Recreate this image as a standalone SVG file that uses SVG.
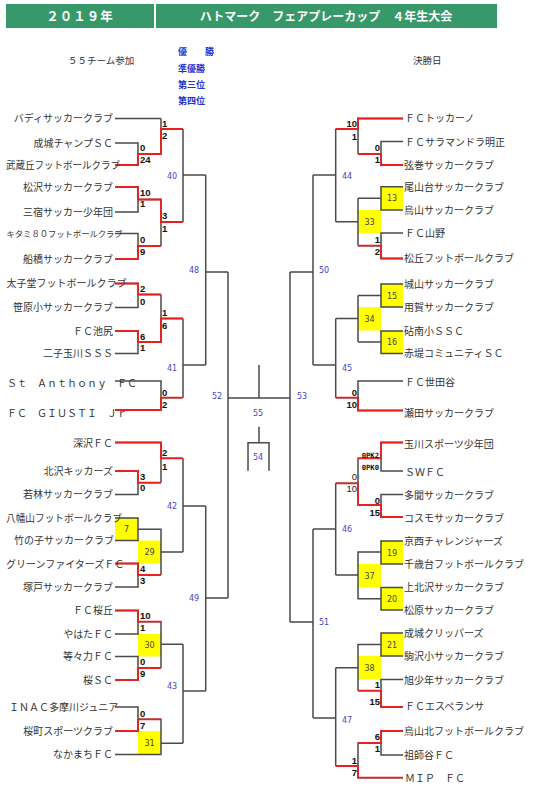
<svg xmlns="http://www.w3.org/2000/svg" width="540" height="792" viewBox="0 0 540 792">
<style>
.hd{fill:#37996a}
.ht{font-family:"Noto Sans CJK JP","Noto Sans",sans-serif;font-weight:bold;fill:#fff;text-anchor:middle}
.nm{font-family:"Noto Sans CJK JP","Noto Sans",sans-serif;font-size:10px;fill:#333}
.nms{font-family:"Noto Sans CJK JP","Noto Sans",sans-serif;font-size:8.3px;fill:#333}
.l{text-anchor:end}
.bl{font-family:"Noto Sans CJK JP",sans-serif;font-size:9px;font-weight:bold;fill:#2233cc}
.sm{font-family:"Noto Sans CJK JP",sans-serif;font-size:9.5px;fill:#333}
.sc{font-family:"Liberation Sans",Arial,sans-serif;font-weight:bold;font-size:9.5px;fill:#111}
.scn{font-family:"Liberation Sans",Arial,sans-serif;font-size:9.5px;fill:#222}
.r{text-anchor:end}
.pk{font-family:"DejaVu Sans Mono",monospace;font-weight:bold;font-size:7.2px;fill:#111;text-anchor:end}
.mn{font-family:"DejaVu Sans",sans-serif;font-size:8px;fill:#4646c8}
.bx{fill:#ffff00}
.bn{font-family:"DejaVu Sans",sans-serif;font-size:8px;fill:#444;text-anchor:middle}
.g{fill:none;stroke:#4a4a4a;stroke-width:1.5}
.rd{fill:none;stroke:#e82020;stroke-width:1.8}
</style>
<rect width="540" height="792" fill="#fff"/>
<g id="header">
<rect class="hd" x="6" y="4" width="148" height="24"/>
<rect class="hd" x="156" y="4" width="341" height="24"/>
<text class="ht" x="80" y="21" font-size="12.5" letter-spacing="1">２０１９年</text>
<text class="ht" x="326" y="21" font-size="12">ハトマーク　フェアプレーカップ　４年生大会</text>
<text class="sm" x="68" y="63.6">５５チーム参加</text>
<text class="sm" x="413" y="63.6">決勝日</text>
<text class="bl" x="178" y="54.5">優　　勝</text>
<text class="bl" x="178" y="71.5">準優勝</text>
<text class="bl" x="178" y="87.5">第三位</text>
<text class="bl" x="178" y="103.5">第四位</text>
</g>
<g id="match-boxes">
<g id="m7"><rect class="bx" x="115" y="518" width="23" height="22.5"/><text class="bn" x="126.5" y="532">7</text></g>
<g id="m29"><rect class="bx" x="138" y="540.5" width="23" height="23"/><text class="bn" x="149.5" y="555">29</text></g>
<g id="m30"><rect class="bx" x="138" y="634" width="23" height="22.5"/><text class="bn" x="149.5" y="648">30</text></g>
<g id="m31"><rect class="bx" x="138" y="731" width="23" height="23.5"/><text class="bn" x="149.5" y="745.5">31</text></g>
<g id="m13"><rect class="bx" x="381" y="186.7" width="22" height="23.3"/><text class="bn" x="392" y="201.3">13</text></g>
<g id="m33"><rect class="bx" x="358" y="210" width="23" height="23"/><text class="bn" x="369.5" y="224.5">33</text></g>
<g id="m15"><rect class="bx" x="381" y="284" width="22" height="23"/><text class="bn" x="392" y="298.5">15</text></g>
<g id="m34"><rect class="bx" x="358" y="307" width="23" height="23.5"/><text class="bn" x="369.5" y="321.5">34</text></g>
<g id="m16"><rect class="bx" x="381" y="331" width="22" height="22.5"/><text class="bn" x="392" y="345">16</text></g>
<g id="m19"><rect class="bx" x="381" y="541" width="22" height="23"/><text class="bn" x="392" y="555.5">19</text></g>
<g id="m37"><rect class="bx" x="358" y="564" width="23" height="23.5"/><text class="bn" x="369.5" y="578.5">37</text></g>
<g id="m20"><rect class="bx" x="381" y="587.5" width="22" height="22.5"/><text class="bn" x="392" y="601.7">20</text></g>
<g id="m21"><rect class="bx" x="381" y="633" width="22" height="23"/><text class="bn" x="392" y="647.5">21</text></g>
<g id="m38"><rect class="bx" x="358" y="656" width="23" height="23.5"/><text class="bn" x="369.5" y="671">38</text></g>
</g>
<g id="connectors">
<path class="g" d="M115 118.5H161 M115 143H138V165H115 M138 154H161 M161 118.5V154 M161 129H183 M115 187H138V212H115 M138 199.5H161 M115 233.5H138V259H115 M138 246H161 M161 199.5V246 M161 222H183 M183 129V222 M183 175H205.7 M115 283.5H138V307.5H115 M138 294.5H161 M115 331H138V353.5H115 M138 342H161 M161 294.5V342 M161 318.5H183 M115 381H161V410H115 M161 397.7H183 M183 318.5V397.7 M183 365H205.7 M205.7 175V365 M205.7 272H228 M115 442.5H161V482.7 M115 471H138V494.5H115 M138 482.7H161 M161 458.3H183 M115 518H138V540.5H115 M138 529.3H161V575 M115 563.5H138V587H115 M138 575H161 M161 552H183 M183 458.3V552 M183 506H205.7 M115 610.5H138V634H115 M138 621.7H161V668 M115 656.5H138V680H115 M138 668H161 M161 644.3H183 M115 707H138V731H115 M138 719.3H161V754.5H115 M161 743.3H183 M183 644.3V743.3 M183 691H205.7 M205.7 506V691 M205.7 598H228 M228 272V598 M228 398H290 M259 365V398 M259 426.7V442.7 M248 470.7V442.7H269V470.7"/>
<path class="g" d="M403 118.5H358V154 M403 141.5H381V165H403 M358 154H381 M358 129H335.7 M403 186.7H381V210H403 M358 198.3H381 M403 233H381V258.5H403 M358 245.7H381 M358 198.3V245.7 M358 221.7H335.7 M335.7 129V221.7 M335.7 175H313 M403 284H381V307H403 M358 295.5H381 M403 331H381V353.5H403 M358 342H381 M358 295.5V342 M358 318.5H335.7 M403 381H358V410.5H403 M358 397.7H335.7 M335.7 318.5V397.7 M335.7 365H313 M313 175V365 M313 272H290 M403 442.5H381V471H403 M381 458.3H358V505 M403 494.5H381V517H403 M381 505H358 M358 483.3H335.7 M403 541H381V564H403 M381 552H358V598.7H381 M403 587.5H381V610H403 M358 575H335.7 M335.7 483.3V575 M335.7 529H313 M403 633H381V656H403 M381 644.5H358V690.7 M403 679.5H381V707H403 M358 690.7H381 M358 667.7H335.7 M403 731H381V755H403 M381 743H358V777.7H403 M358 766H335.7 M335.7 667.7V766 M335.7 718H313 M313 529V718 M313 622H290 M290 272V622"/>
<path class="rd" d="M115 165H138V154H161V129H183 M115 187H138V199.5H161V222H183 M115 259H138V246H161 M115 283.5H138V294.5H161 M115 331H138V342H161V318.5H183 M115 410H161V397.7H183 M115 442.5H161V458.3H183 M115 471H138V482.7H161 M115 563.5H138V575H161 M115 610.5H138V621.7H161 M115 680H138V668H161 M115 731H138V719.3H161"/>
<path class="rd" d="M403 118.5H358V129H335.7 M403 165H381V154H358 M403 258.5H381V245.7H358 M403 410.5H358V397.7H335.7 M403 442.5H381V458.3H358 M403 517H381V505H358V483.3H335.7 M403 707H381V690.7H358 M403 731H381V743H358 M403 777.7H358V766H335.7"/>
</g>
<g id="teams-left">
<g id="L01"><text class="nm l" x="113" y="122.3">バディサッカークラブ</text></g>
<g id="L02"><text class="nm l" x="113" y="146.8">成城チャンプＳＣ</text></g>
<g id="L03"><text class="nm" x="6" y="168.8" textLength="114" lengthAdjust="spacingAndGlyphs">武蔵丘フットボールクラブ</text></g>
<g id="L04"><text class="nm l" x="113" y="190.8">松沢サッカークラブ</text></g>
<g id="L05"><text class="nm l" x="113" y="215.8">三宿サッカー少年団</text></g>
<g id="L06"><text class="nms" x="6.5" y="236.6">キタミ８０フットボールクラブ</text></g>
<g id="L07"><text class="nm l" x="113" y="262.8">船橋サッカークラブ</text></g>
<g id="L08"><text class="nm" x="6.5" y="287.3">太子堂フットボールクラブ</text></g>
<g id="L09"><text class="nm l" x="113" y="311.3">笹原小サッカークラブ</text></g>
<g id="L10"><text class="nm l" x="113" y="334.8">ＦＣ池尻</text></g>
<g id="L11"><text class="nm l" x="113" y="357.3">二子玉川ＳＳＳ</text></g>
<g id="L12"><text class="nm" x="7" y="386.8">Ｓｔ　Ａｎｔｈｏｎｙ　ＦＣ</text></g>
<g id="L13"><text class="nm" x="7" y="416.8">ＦＣ　ＧＩＵＳＴＩ　Ｊｒ</text></g>
<g id="L14"><text class="nm l" x="113" y="446.8">深沢ＦＣ</text></g>
<g id="L15"><text class="nm l" x="113" y="474.8">北沢キッカーズ</text></g>
<g id="L16"><text class="nm l" x="113" y="498.3">若林サッカークラブ</text></g>
<g id="L17"><text class="nm" x="6" y="521.8" textLength="116" lengthAdjust="spacingAndGlyphs">八幡山フットボールクラブ</text></g>
<g id="L18"><text class="nm l" x="114" y="544.3">竹の子サッカークラブ</text></g>
<g id="L19"><text class="nm" x="6" y="567.8">グリーンファイターズＦＣ</text></g>
<g id="L20"><text class="nm l" x="113" y="590.8">塚戸サッカークラブ</text></g>
<g id="L21"><text class="nm l" x="113" y="614.3">ＦＣ桜丘</text></g>
<g id="L22"><text class="nm l" x="113" y="637.8">やはたＦＣ</text></g>
<g id="L23"><text class="nm l" x="113" y="660.3">等々力ＦＣ</text></g>
<g id="L24"><text class="nm l" x="113" y="683.8">桜ＳＣ</text></g>
<g id="L25"><text class="nm" x="9" y="710.8">ＩＮＡＣ多摩川ジュニア</text></g>
<g id="L26"><text class="nm l" x="113" y="735.3">桜町スポーツクラブ</text></g>
<g id="L27"><text class="nm l" x="113" y="758.3">なかまちＦＣ</text></g>
</g>
<g id="teams-right">
<g id="R01"><text class="nm" x="405" y="122.3">ＦＣトッカーノ</text></g>
<g id="R02"><text class="nm" x="405" y="145.8">ＦＣサラマンドラ明正</text></g>
<g id="R03"><text class="nm" x="404" y="168.8">弦巻サッカークラブ</text></g>
<g id="R04"><text class="nm" x="404" y="190.8">尾山台サッカークラブ</text></g>
<g id="R05"><text class="nm" x="404" y="213.8">烏山サッカークラブ</text></g>
<g id="R06"><text class="nm" x="405" y="236.8">ＦＣ山野</text></g>
<g id="R07"><text class="nm" x="404" y="262.3">松丘フットボールクラブ</text></g>
<g id="R08"><text class="nm" x="404" y="287.8">城山サッカークラブ</text></g>
<g id="R09"><text class="nm" x="404" y="310.8">用賀サッカークラブ</text></g>
<g id="R10"><text class="nm" x="404" y="334.8">砧南小ＳＳＣ</text></g>
<g id="R11"><text class="nm" x="404" y="357.3">赤堤コミュニティＳＣ</text></g>
<g id="R12"><text class="nm" x="405" y="386.3">ＦＣ世田谷</text></g>
<g id="R13"><text class="nm" x="404" y="416.8">瀬田サッカークラブ</text></g>
<g id="R14"><text class="nm" x="404" y="447.8">玉川スポーツ少年団</text></g>
<g id="R15"><text class="nm" x="405" y="475.8">ＳＷＦＣ</text></g>
<g id="R16"><text class="nm" x="404" y="499.3">多聞サッカークラブ</text></g>
<g id="R17"><text class="nm" x="404" y="521.8">コスモサッカークラブ</text></g>
<g id="R18"><text class="nm" x="404" y="545.3">京西チャレンジャーズ</text></g>
<g id="R19"><text class="nm" x="404" y="567.8">千歳台フットボールクラブ</text></g>
<g id="R20"><text class="nm" x="404" y="591.3">上北沢サッカークラブ</text></g>
<g id="R21"><text class="nm" x="404" y="614.3">松原サッカークラブ</text></g>
<g id="R22"><text class="nm" x="404" y="636.8">成城クリッパーズ</text></g>
<g id="R23"><text class="nm" x="404" y="660.3">駒沢小サッカークラブ</text></g>
<g id="R24"><text class="nm" x="404" y="683.8">旭少年サッカークラブ</text></g>
<g id="R25"><text class="nm" x="405" y="710.3">ＦＣエスペランサ</text></g>
<g id="R26"><text class="nm" x="404" y="735.3">烏山北フットボールクラブ</text></g>
<g id="R27"><text class="nm" x="404" y="758.8">祖師谷ＦＣ</text></g>
<g id="R28"><text class="nm" x="405" y="781.8">ＭＩＰ　ＦＣ</text></g>
</g>
<g id="scores">
<text class="sc" x="162" y="127.4">1</text><text class="sc" x="162" y="139.4">2</text>
<text class="sc" x="140" y="151.4">0</text><text class="sc" x="140" y="163.4">24</text>
<text class="sc" x="140" y="196.4">10</text><text class="sc" x="140" y="207.4">1</text>
<text class="sc" x="162" y="219.4">3</text><text class="sc" x="162" y="232.4">1</text>
<text class="sc" x="140" y="243.4">0</text><text class="sc" x="140" y="255.4">9</text>
<text class="sc" x="140" y="292.4">2</text><text class="sc" x="140" y="305.4">0</text>
<text class="sc" x="162" y="316.4">1</text><text class="sc" x="162" y="329.4">6</text>
<text class="sc" x="140" y="340.4">6</text><text class="sc" x="140" y="351.4">1</text>
<text class="sc" x="162" y="396.4">0</text><text class="sc" x="162" y="408.4">2</text>
<text class="sc" x="162" y="456.4">2</text><text class="sc" x="162" y="470.4">1</text>
<text class="sc" x="140" y="480.4">3</text><text class="sc" x="140" y="491.4">0</text>
<text class="sc" x="140" y="572.4">4</text><text class="sc" x="140" y="584.4">3</text>
<text class="sc" x="140" y="619.4">10</text><text class="sc" x="140" y="631.4">1</text>
<text class="sc" x="140" y="665.4">0</text><text class="sc" x="140" y="677.4">9</text>
<text class="sc" x="140" y="717.4">0</text><text class="sc" x="140" y="729.4">7</text>
<text class="sc r" x="357" y="127.4">10</text><text class="sc r" x="357" y="140.4">1</text>
<text class="sc r" x="380" y="151.4">0</text><text class="sc r" x="380" y="163.4">1</text>
<text class="sc r" x="380" y="243.4">1</text><text class="sc r" x="380" y="255.4">2</text>
<text class="sc r" x="357" y="396.4">0</text><text class="sc r" x="357" y="408.4">10</text>
<text class="pk" x="379" y="457.6">0PK2</text><text class="pk" x="379" y="469.8">0PK0</text>
<text class="scn r" x="357" y="480.4">0</text><text class="scn r" x="357" y="492.4">10</text>
<text class="sc r" x="380" y="504.4">0</text><text class="sc r" x="380" y="516.4">15</text>
<text class="sc r" x="380" y="688.4">1</text><text class="sc r" x="380" y="705.4">15</text>
<text class="sc r" x="380" y="740.4">6</text><text class="sc r" x="380" y="752.4">1</text>
<text class="sc r" x="357" y="764.4">1</text><text class="sc r" x="357" y="776.4">7</text>
</g>
<g id="match-numbers">
<text class="mn" x="167" y="178.6">40</text>
<text class="mn" x="189" y="272.9">48</text>
<text class="mn" x="167" y="370.9">41</text>
<text class="mn" x="212" y="398.9">52</text>
<text class="mn" x="253" y="415.9">55</text>
<text class="mn" x="253" y="460.2">54</text>
<text class="mn" x="297" y="398.9">53</text>
<text class="mn" x="167" y="509.4">42</text>
<text class="mn" x="189" y="600.9">49</text>
<text class="mn" x="167" y="688.9">43</text>
<text class="mn" x="342" y="178.9">44</text>
<text class="mn" x="319" y="272.9">50</text>
<text class="mn" x="342" y="370.9">45</text>
<text class="mn" x="342" y="531.9">46</text>
<text class="mn" x="319" y="625.4">51</text>
<text class="mn" x="342" y="722.9">47</text>
</g>
</svg>
